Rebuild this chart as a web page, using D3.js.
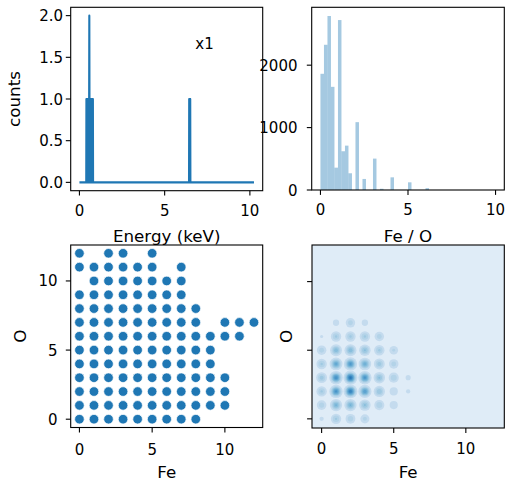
<!DOCTYPE html>
<html><head><meta charset="utf-8">
<script src="https://cdn.jsdelivr.net/npm/d3@7"></script>
<style>body{margin:0;background:#fff}svg{display:block}text{font-family:"DejaVu Sans",sans-serif;fill:#000}</style>
</head><body>
<svg id="c" width="506" height="481"></svg>
<script>
// ---- data ----
// spectrum: nonzero channels (keV) and their counts, 0.01 keV channels from 0 to 10.24
const specEnergy = [0.41,0.43,0.45,0.47,0.49,0.51,0.53,0.55,0.57,0.58,0.59,0.61,0.63,0.65,0.67,0.69,0.71,0.73,0.75,0.77,0.79,6.44,6.46,6.48,6.50];
const specCounts = [1,1,1,1,1,1,1,1,1,2,1,1,1,1,1,1,1,1,1,1,1,1,1,1,1];
const specMax = 10.24;
const xTicksE = [0,5,10];
const yTicksC = [0,0.5,1.0,1.5,2.0];

// Fe / O histogram, 50 bins of width 0.2 over 0..10
const histCounts = [1862,2327,2788,1653,358,2723,621,711,268,0,
                    1087,0,177,0,0,503,0,20,0,0,
                    203,0,0,0,0,123,0,0,0,0,
                    30,0,0,0,0,0,0,0,0,0,
                    0,0,0,0,0,0,0,0,0,0];
const histTicksX = [0,5,10];
const histTicksY = [0,1000,2000];

// Fe vs O scatter: for each O value, the Fe values present
const scatterO  = [12,11,10,9,8,7,6,5,4,3,2,1,0];
const scatterFe = [
  [0,2,3,5],
  [0,1,2,3,4,5,7],
  [1,2,3,4,5,6,7],
  [0,1,2,3,4,5,6,7],
  [0,1,2,3,4,5,6,7,8],
  [0,1,2,3,4,5,6,7,8,10,11,12],
  [0,1,2,3,4,5,6,7,8,9,10,11],
  [0,1,2,3,4,5,6,7,8,9],
  [0,1,2,3,4,5,6,7,8,9],
  [0,1,2,3,4,5,6,7,8,9,10],
  [0,1,2,3,4,5,6,7,8,9,10],
  [0,1,2,3,4,5,6,7,8,9,10],
  [0,1,2,3,4,5,6,7,8]
];
const scatTicks = [0,5,10];

// density: rows O = 0..7, columns Fe = 0..6 (relative intensity)
const densO = [0,1,2,3,4,5,6,7];
const densFe = [0,1,2,3,4,5,6];
const density = [
  [0.10,0.30,0.26,0.22,0,0,0],
  [0.25,0.50,0.50,0.40,0.28,0.18,0],
  [0.30,0.72,0.85,0.66,0.38,0.18,0.10],
  [0.34,0.76,0.92,0.72,0.40,0.28,0.11],
  [0.30,0.60,0.70,0.55,0.34,0.24,0],
  [0.24,0.45,0.46,0.40,0.30,0.20,0],
  [0.09,0.30,0.30,0.30,0.24,0,0],
  [0,0.13,0.24,0.13,0,0,0]
];

// ---- drawing ----
const svg = d3.select("#c");
const blue = "#1f77b4";
const TF = 15, LF = 16.7;

function frame(g, x0, x1, y0, y1, fill) {
  g.append("rect").attr("x", x0).attr("y", y0).attr("width", x1 - x0).attr("height", y1 - y0)
    .attr("fill", fill || "#fff").attr("stroke", "none");
}
function spines(g, x0, x1, y0, y1) {
  g.append("rect").attr("x", x0).attr("y", y0).attr("width", x1 - x0).attr("height", y1 - y0)
    .attr("fill", "none").attr("stroke", "#000").attr("stroke-width", 1.1);
}
function xAxis(g, sx, ticks, yb, labelBase, fmt) {
  ticks.forEach(t => {
    g.append("line").attr("x1", sx(t)).attr("x2", sx(t)).attr("y1", yb).attr("y2", yb + 4.9)
      .attr("stroke", "#000").attr("stroke-width", 1.1);
    g.append("text").attr("x", sx(t)).attr("y", labelBase).attr("text-anchor", "middle")
      .attr("font-size", TF).text(fmt ? fmt(t) : t);
  });
}
function yAxis(g, sy, ticks, xl, labelRight, fmt, showLabels = true) {
  ticks.forEach(t => {
    g.append("line").attr("x1", xl - 4.9).attr("x2", xl).attr("y1", sy(t)).attr("y2", sy(t))
      .attr("stroke", "#000").attr("stroke-width", 1.1);
    if (showLabels)
      g.append("text").attr("x", labelRight).attr("y", sy(t) + 5.5).attr("text-anchor", "end")
        .attr("font-size", TF).text(fmt ? fmt(t) : t);
  });
}

// ---------- top-left: spectrum ----------
{
  const X0 = 70.7, X1 = 262.7, Y0 = 7.3, Y1 = 190.7;
  const g = svg.append("g");
  frame(g, X0, X1, Y0, Y1);
  const sx = d3.scaleLinear().domain([-0.512, specMax + 0.512]).range([X0, X1]);
  const sy = d3.scaleLinear().domain([-0.1, 2.1]).range([Y1, Y0]);
  const lookup = new Map(specEnergy.map((e, i) => [Math.round(e * 100), specCounts[i]]));
  const pts = d3.range(0, Math.round(specMax * 100) + 1).map(k => [k / 100, lookup.get(k) || 0]);
  g.append("path").datum(pts)
    .attr("d", d3.line().x(d => sx(d[0])).y(d => sy(d[1])))
    .attr("fill", "none").attr("stroke", blue).attr("stroke-width", 2.1).attr("stroke-linejoin", "round");
  g.append("text").attr("x", sx(6.8)).attr("y", sy(1.6)).attr("font-size", TF).text("x1");
  spines(g, X0, X1, Y0, Y1);
  xAxis(g, sx, xTicksE, Y1, 216);
  yAxis(g, sy, yTicksC, X0, 63, d3.format(".1f"));
  g.append("text").attr("x", (X0 + X1) / 2).attr("y", 242).attr("text-anchor", "middle")
    .attr("font-size", LF).text("Energy (keV)");
  g.append("text").attr("transform", `translate(20,${(Y0 + Y1) / 2}) rotate(-90)`)
    .attr("text-anchor", "middle").attr("font-size", LF).text("counts");
}

// ---------- top-right: histogram ----------
{
  const X0 = 311.7, X1 = 504.3, Y0 = 7.3, Y1 = 190;
  const g = svg.append("g");
  frame(g, X0, X1, Y0, Y1);
  const sx = d3.scaleLinear().domain([-0.5, 10.5]).range([X0, X1]);
  const maxC = d3.max(histCounts);
  const sy = d3.scaleLinear().domain([0, maxC * 1.05]).range([Y1, Y0]);
  const bw = 10 / histCounts.length;
  g.selectAll("rect.bar").data(histCounts).join("rect").attr("class", "bar")
    .attr("x", (d, i) => sx(i * bw)).attr("width", (d, i) => sx((i + 1) * bw) - sx(i * bw))
    .attr("y", d => sy(d)).attr("height", d => sy(0) - sy(d))
    .attr("fill", blue).attr("fill-opacity", 0.4);
  spines(g, X0, X1, Y0, Y1);
  xAxis(g, sx, histTicksX, Y1, 215);
  yAxis(g, sy, histTicksY, X0, 297.5);
  g.append("text").attr("x", (X0 + X1) / 2).attr("y", 242).attr("text-anchor", "middle")
    .attr("font-size", LF).text("Fe / O");
}

// ---------- bottom-left: scatter ----------
{
  const X0 = 70.7, X1 = 262.7, Y0 = 245, Y1 = 427.5;
  const g = svg.append("g");
  frame(g, X0, X1, Y0, Y1);
  const sx = d3.scaleLinear().domain([-0.6, 12.6]).range([X0, X1]);
  const sy = d3.scaleLinear().domain([-0.6, 12.6]).range([Y1, Y0]);
  const pts = [];
  scatterO.forEach((o, i) => scatterFe[i].forEach(fe => pts.push([fe, o])));
  g.selectAll("circle").data(pts).join("circle")
    .attr("cx", d => sx(d[0])).attr("cy", d => sy(d[1])).attr("r", 4.8)
    .attr("fill", blue).attr("stroke", "#fff").attr("stroke-width", 0.7);
  spines(g, X0, X1, Y0, Y1);
  xAxis(g, sx, scatTicks, Y1, 455);
  yAxis(g, sy, scatTicks, X0, 57.5);
  g.append("text").attr("x", (X0 + X1) / 2).attr("y", 477.5).attr("text-anchor", "middle")
    .attr("font-size", LF).text("Fe");
  g.append("text").attr("transform", `translate(26,${(Y0 + Y1) / 2}) rotate(-90)`)
    .attr("text-anchor", "middle").attr("font-size", LF).text("O");
}

// ---------- bottom-right: density ----------
{
  const X0 = 312, X1 = 504.3, Y0 = 245, Y1 = 428;
  const g = svg.append("g");
  const sx = d3.scaleLinear().domain([-0.667, 12.667]).range([X0, X1]);
  const sy = d3.scaleLinear().domain([-0.667, 12.667]).range([Y1, Y0]);
  frame(g, X0, X1, Y0, Y1, d3.interpolateBlues(0.12));
  const levels = [0.08, 0.18, 0.28, 0.38, 0.48, 0.58, 0.68, 0.78, 0.88];
  const sigma = 3.2;
  g.append("clipPath").attr("id", "brc").append("rect")
    .attr("x", X0).attr("y", Y0).attr("width", X1 - X0).attr("height", Y1 - Y0);
  const gb = g.append("g").attr("clip-path", "url(#brc)");
  densO.forEach((o, i) => densFe.forEach((fe, j) => {
    const v = density[i][j];
    levels.forEach(L => {
      if (v <= L) return;
      const r = sigma * Math.sqrt(2 * Math.log(v / L));
      gb.append("circle").attr("cx", sx(fe)).attr("cy", sy(o)).attr("r", r)
        .attr("fill", d3.interpolateBlues(0.2 + L * 0.6));
    });
  }));
  spines(g, X0, X1, Y0, Y1);
  xAxis(g, sx, scatTicks, Y1, 454);
  yAxis(g, sy, scatTicks, X0, 0, null, false);
  g.append("text").attr("x", (X0 + X1) / 2).attr("y", 478).attr("text-anchor", "middle")
    .attr("font-size", LF).text("Fe");
  g.append("text").attr("transform", `translate(292,${(Y0 + Y1) / 2}) rotate(-90)`)
    .attr("text-anchor", "middle").attr("font-size", LF).text("O");
}
</script>
</body></html>
